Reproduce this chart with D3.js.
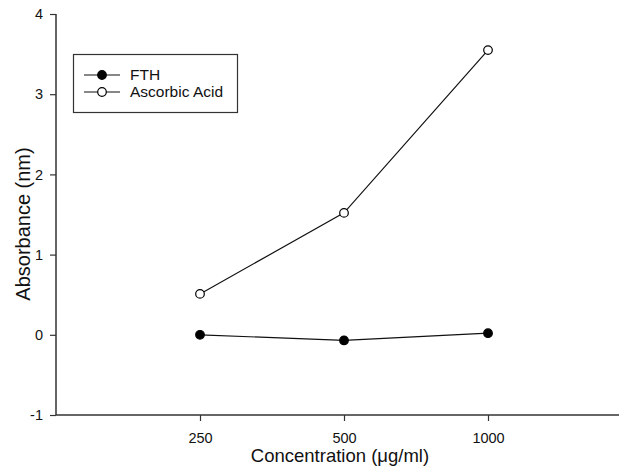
<!DOCTYPE html>
<html><head><meta charset="utf-8">
<script src="https://cdn.jsdelivr.net/npm/d3@7"></script>
<style>body{margin:0;background:#fff}svg{display:block}text{font-family:"Liberation Sans",Arial,sans-serif;fill:#111}</style>
</head><body><div id="c"></div>
<script>
const categories = ["250","500","1000"];
const fthValues = [0.00, -0.07, 0.02];
const ascorbicValues = [0.51, 1.52, 3.55];
const yTicks = [-1,0,1,2,3,4];
const seriesNames = ["FTH","Ascorbic Acid"];

const W=620,H=470;
const svg=d3.select("#c").append("svg").attr("width",W).attr("height",H);
const x=d3.scaleLinear().domain([0,4]).range([56,632]);
const y=d3.scaleLinear().domain([-1,4]).range([415,14]);
const ax="#333";

// y axis
const ya=svg.append("g").attr("transform","translate(56,0)")
  .call(d3.axisLeft(y).tickValues(yTicks).tickSize(6).tickPadding(7).tickFormat(d=>String(d)));
ya.select(".domain").attr("stroke",ax).attr("stroke-width",1.5).attr("d","M0,"+y(4)+"V"+y(-1));
ya.selectAll(".tick line").attr("stroke",ax).attr("stroke-width",1.2);
ya.selectAll("text").attr("font-size",14.5).attr("fill","#111");

// x axis
const xa=svg.append("g").attr("transform","translate(0,415)")
  .call(d3.axisBottom(x).tickValues([1,2,3]).tickSize(6).tickPadding(12).tickFormat(i=>categories[i-1]));
xa.select(".domain").attr("stroke",ax).attr("stroke-width",1.5).attr("d","M56,0H619");
xa.selectAll(".tick line").attr("stroke",ax).attr("stroke-width",1.2);
xa.selectAll("text").attr("font-size",14.5).attr("fill","#111");

svg.append("text").attr("x",340).attr("y",462).attr("text-anchor","middle").attr("font-size",18.5).text("Concentration (μg/ml)");
svg.append("text").attr("transform","translate(30,224) rotate(-90)").attr("text-anchor","middle").attr("font-size",20).text("Absorbance (nm)");

const line=d3.line().x((d,i)=>x(i+1)).y(d=>y(d));
const series=[{name:seriesNames[0],vals:fthValues,fill:"#000"},{name:seriesNames[1],vals:ascorbicValues,fill:"#fff"}];
series.forEach(s=>{
  svg.append("path").attr("d",line(s.vals)).attr("fill","none").attr("stroke","#111").attr("stroke-width",1.2);
  svg.selectAll(null).data(s.vals).enter().append("circle")
    .attr("cx",(d,i)=>x(i+1)).attr("cy",d=>y(d)).attr("r",4.3)
    .attr("fill",s.fill).attr("stroke","#000").attr("stroke-width",1.2);
});

// legend
const lg=svg.append("g");
lg.append("rect").attr("x",73.5).attr("y",54.5).attr("width",164).attr("height",58).attr("fill","#fff").attr("stroke","#333").attr("stroke-width",1.2);
series.forEach((s,i)=>{
  const yy=75+i*17;
  lg.append("line").attr("x1",84).attr("x2",120).attr("y1",yy).attr("y2",yy).attr("stroke","#111").attr("stroke-width",1.2);
  lg.append("circle").attr("cx",102).attr("cy",yy).attr("r",4.3).attr("fill",s.fill).attr("stroke","#000").attr("stroke-width",1.2);
  lg.append("text").attr("x",130).attr("y",yy+5).attr("font-size",15.5).text(s.name);
});
</script></body></html>
